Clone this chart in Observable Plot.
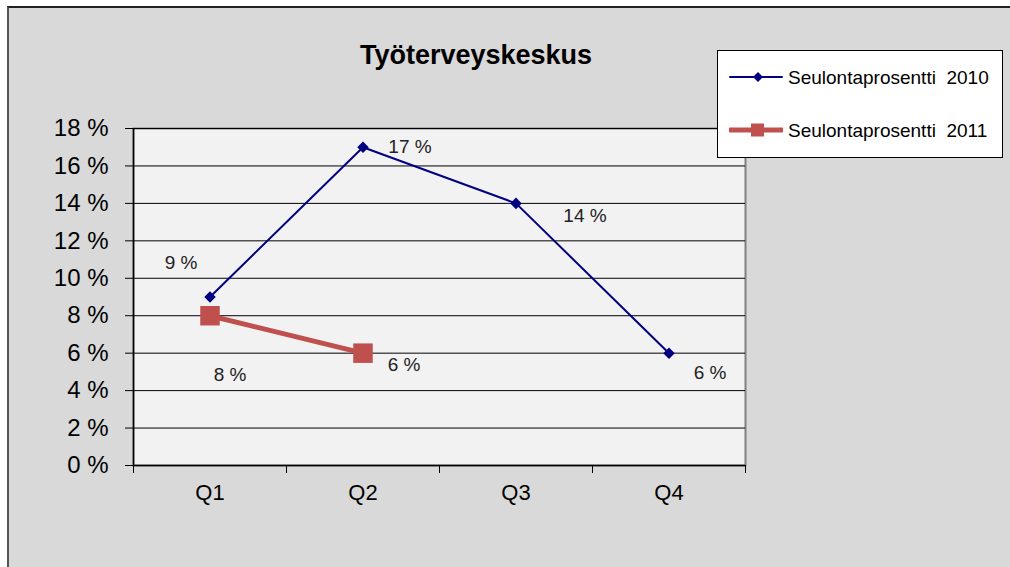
<!DOCTYPE html>
<html>
<head>
<meta charset="utf-8">
<script src="https://cdn.jsdelivr.net/npm/d3@7"></script>
<script src="https://cdn.jsdelivr.net/npm/@observablehq/plot@0.6"></script>
<style>
  html, body { margin: 0; padding: 0; background: #fff; }
  #wrap { position: relative; width: 1010px; height: 567px; overflow: hidden; font-family: "Liberation Sans", Arial, sans-serif; }
  #bg { position: absolute; left: 7px; top: 6px; width: 1010px; height: 570px; background: #d9d9d9; border-left: 2px solid #555; border-top: 2px solid #222; }
  #title { position: absolute; left: 0; width: 952px; top: 42px; text-align: center; font-weight: bold; font-size: 27px; line-height: 1; color: #000; }
  #chart { position: absolute; left: 0; top: 0; }
  #legend { position: absolute; left: 717px; top: 50px; width: 284px; height: 106px; background: #fff; border: 1px solid #000; }
  .item { position: absolute; left: 0; height: 20px; }
  .item svg { position: absolute; left: 11px; top: 0; }
  .item span { position: absolute; left: 70px; top: 1px; font-size: 19px; line-height: 20px; white-space: pre; color: #000; }
</style>
</head>
<body>
<div id="wrap">
  <div id="bg"></div>
  <div id="title">Työterveyskeskus</div>
  <div id="chart"></div>
  <div id="legend"></div>
</div>
<script>
const categories = ["Q1", "Q2", "Q3", "Q4"];
const series2010 = [9, 17, 14, 6];
const series2011 = [8, 6];
const seriesNames = ["Seulontaprosentti  2010", "Seulontaprosentti  2011"];
const yTicks = [0, 2, 4, 6, 8, 10, 12, 14, 16, 18];

const c2010 = "#000080", c2011 = "#c0504d";

const d2010 = series2010.map((v, i) => ({q: i + 1, v, label: v + " %"}));
const d2011 = series2011.map((v, i) => ({q: i + 1, v, label: v + " %"}));

// label offsets (styling)
const off2010 = [[-29, -34], [47, 0], [69, 13], [41, 20]];
const off2011 = [[20, 59], [41, 12]];

const labelMarks = [];
d2010.forEach((d, i) => labelMarks.push(Plot.text([d], {x: "q", y: "v", text: "label", dx: off2010[i][0], dy: off2010[i][1], fontSize: 19, fill: "#222"})));
d2011.forEach((d, i) => labelMarks.push(Plot.text([d], {x: "q", y: "v", text: "label", dx: off2011[i][0], dy: off2011[i][1], fontSize: 19, fill: "#222"})));

const bounds = d3.range(0.5, categories.length + 1, 1);

const plot = Plot.plot({
  width: 1010,
  height: 567,
  marginLeft: 133,
  marginRight: 265,
  marginTop: 128,
  marginBottom: 102,
  style: {background: "transparent", fontFamily: "'Liberation Sans', Arial, sans-serif", color: "#000"},
  x: {type: "linear", domain: [0.5, categories.length + 0.5], axis: null},
  y: {domain: [0, 18], axis: null},
  marks: [
    Plot.frame({fill: "#f2f2f2", stroke: "#808080", strokeWidth: 2}),
    Plot.ruleY(yTicks, {stroke: "#000", strokeWidth: 1}),
    Plot.ruleX([0.5], {stroke: "#000", strokeWidth: 1.5}),
    Plot.ruleY([0], {stroke: "#000", strokeWidth: 1.5}),
    Plot.axisY({ticks: yTicks, tickSize: 8, tickPadding: 17, tickFormat: d => d + " %", fontSize: 24, stroke: "#000", label: null}),
    Plot.axisX({ticks: bounds, tickSize: 8, tickFormat: () => "", stroke: "#000", label: null}),
    Plot.axisX({ticks: categories.map((c, i) => i + 1), tickSize: 0, tickPadding: 19, tickFormat: d => categories[d - 1], fontSize: 22, label: null}),
    Plot.line(d2010, {x: "q", y: "v", stroke: c2010, strokeWidth: 2}),
    Plot.dot(d2010, {x: "q", y: "v", symbol: "diamond2", r: 5.2, fill: c2010, stroke: null}),
    Plot.line(d2011, {x: "q", y: "v", stroke: c2011, strokeWidth: 5}),
    Plot.dot(d2011, {x: "q", y: "v", symbol: "square", r: 11, fill: c2011, stroke: null}),
    ...labelMarks
  ]
});
document.getElementById("chart").appendChild(plot);

// legend
const legend = document.getElementById("legend");
const legendStyles = [
  {color: c2010, width: 2, marker: "diamond"},
  {color: c2011, width: 5, marker: "square"}
];
seriesNames.forEach((name, i) => {
  const item = document.createElement("div");
  item.className = "item";
  item.style.top = (i === 0 ? 16 : 69) + "px";
  const st = legendStyles[i];
  const svg = d3.create("svg").attr("width", 54).attr("height", 20);
  svg.append("line").attr("x1", 1).attr("x2", 53).attr("y1", 10).attr("y2", 10)
    .attr("stroke", st.color).attr("stroke-width", st.width).attr("stroke-linecap", "round");
  if (st.marker === "diamond") {
    svg.append("path").attr("d", "M29,5 L34,10 L29,15 L24,10 Z").attr("fill", st.color);
  } else {
    svg.append("rect").attr("x", 22).attr("y", 3.5).attr("width", 13).attr("height", 13).attr("fill", st.color);
  }
  item.appendChild(svg.node());
  const span = document.createElement("span");
  span.textContent = name;
  item.appendChild(span);
  legend.appendChild(item);
});
</script>
</body>
</html>
